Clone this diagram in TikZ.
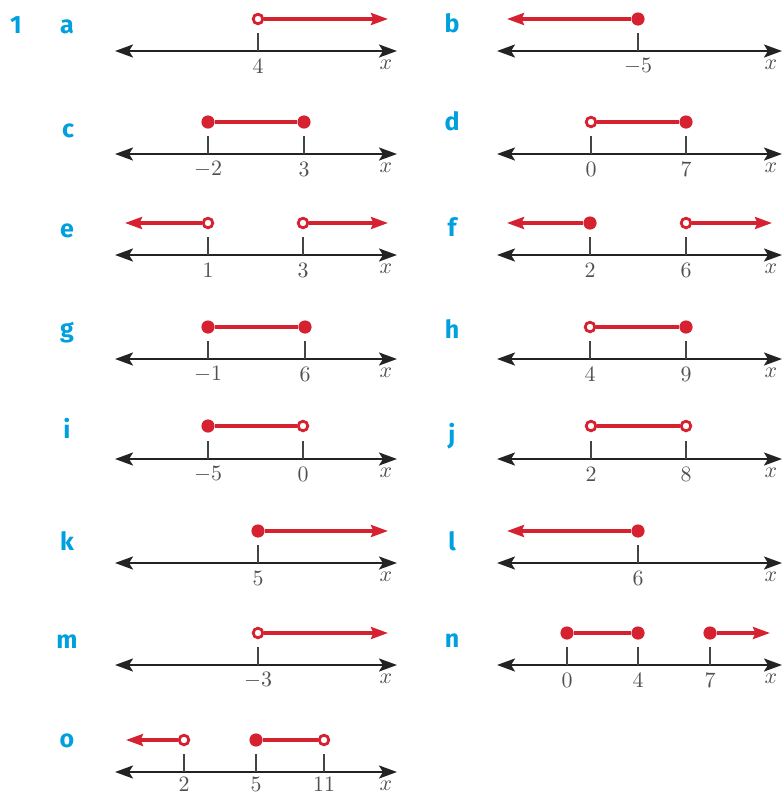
\documentclass[tikz,border=0pt]{standalone}
\usepackage{fontspec}
\newfontfamily\qfont{Fira Sans}
\usetikzlibrary{arrows.meta}
\definecolor{ptred}{RGB}{214,33,48}
\definecolor{qblue}{RGB}{0,160,222}
\definecolor{axisgray}{RGB}{35,35,35}
\definecolor{numgray}{RGB}{80,80,80}
\tikzset{
  axis/.style={draw=axisgray, line width=1.2pt,
    {Stealth[length=9pt,width=6.5pt,inset=2pt]}-{Stealth[length=9pt,width=6.5pt,inset=2pt]}},
  tickmark/.style={draw=axisgray!85, line width=0.8pt},
  ray/.style={draw=ptred, line width=1.6pt},
  tip/.style={-{Stealth[length=8.5pt,width=6pt,inset=1.2pt]}},
  opendot/.style={circle, draw=ptred, fill=white, line width=1.4pt, inner sep=0pt, minimum size=4.8pt},
  fulldot/.style={circle, fill=ptred, inner sep=0pt, minimum size=6.6pt},
  num/.style={text=numgray, inner sep=0pt, font=\fontsize{11}{13}\selectfont},
  qlabel/.style={text=qblue, anchor=base, inner sep=0pt, font=\qfont\bfseries\fontsize{12.5}{14}\selectfont},
}
\begin{document}
\begin{tikzpicture}[x=0.5pt, y=-0.5pt]
  \useasboundingbox (0,0) rectangle (783,794);
  % question and part letters
  \node[qlabel] (q1) at (16,33) {1};
  \foreach \l/\lx/\ly in {a/67/33, b/452/32, c/68/137, d/452/130, e/67/237, f/452/236,
      g/67/337, h/452/338, i/67/438, j/452/443, k/67/550, l/452/550, m/67/648, n/452/647, o/67/747}
    \node[qlabel] (q-\l) at (\lx,\ly) {\l};
  % number lines
  \foreach \xl/\xr/\ay in {115/397/51, 497/782/51, 115/397/154, 497/782/154, 115/397/255, 497/782/255,
      115/397/359, 497/782/359, 115/397/459, 497/782/459, 115/397/563, 497/782/563,
      115/397/665, 497/782/665, 115/397/772} {
    \draw[axis] (\xl,\ay) -- (\xr,\ay);
    \node[num] (x-\xl-\ay) at (\xr-11,\ay+14) {$x$};
  }
  % ticks and their values
  \foreach \tx/\ty/\tl in {258/51/4, 638/51/-5, 208/154/-2, 304/154/3, 591/154/0, 686/154/7,
      208/255/1, 303/255/3, 590/255/2, 686/255/6, 208/359/-1, 305/359/6, 590/359/4, 686/359/9,
      208/459/-5, 303/459/0, 591/459/2, 686/459/8, 258/563/5, 638/563/6,
      258/665/-3, 567/665/0, 638/665/4, 710/665/7} {
    \draw[tickmark] (\tx,\ty) -- ++(0,-18);
    \node[num] (t-\tx-\ty) at (\tx,\ty+15) {$\tl$};
  }
  \foreach \tx/\tl in {184/2, 256/5, 324/11} {
    \draw[tickmark] (\tx,772) -- ++(0,-18);
    \node[num] (t-\tx-772) at (\tx,784) {$\tl$};
  }
  % a
  \node[opendot] (a1) at (258,19) {};
  \coordinate (a2) at (388,19);
  \draw[ray,tip] (a1) -- (a2);
  % b
  \node[fulldot] (b1) at (638,19) {};
  \coordinate (b2) at (507,19);
  \draw[ray,tip] (b1) -- (b2);
  % c
  \node[fulldot] (c1) at (208,122) {};
  \node[fulldot] (c2) at (304,122) {};
  \draw[ray] (c1) -- (c2);
  % d
  \node[opendot] (d1) at (591,122) {};
  \node[fulldot] (d2) at (686,122) {};
  \draw[ray] (d1) -- (d2);
  % e
  \node[opendot] (e1) at (208,223) {};
  \node[opendot] (e2) at (303,223) {};
  \coordinate (e3) at (125,223);
  \coordinate (e4) at (388,223);
  \draw[ray,tip] (e1) -- (e3);
  \draw[ray,tip] (e2) -- (e4);
  % f
  \node[fulldot] (f1) at (590,223) {};
  \node[opendot] (f2) at (686,223) {};
  \coordinate (f3) at (507,223);
  \coordinate (f4) at (772,223);
  \draw[ray,tip] (f1) -- (f3);
  \draw[ray,tip] (f2) -- (f4);
  % g
  \node[fulldot] (g1) at (208,327) {};
  \node[fulldot] (g2) at (305,327) {};
  \draw[ray] (g1) -- (g2);
  % h
  \node[opendot] (h1) at (590,327) {};
  \node[fulldot] (h2) at (686,327) {};
  \draw[ray] (h1) -- (h2);
  % i
  \node[fulldot] (i1) at (208,426) {};
  \node[opendot] (i2) at (303,426) {};
  \draw[ray] (i1) -- (i2);
  % j
  \node[opendot] (j1) at (591,426) {};
  \node[opendot] (j2) at (686,426) {};
  \draw[ray] (j1) -- (j2);
  % k
  \node[fulldot] (k1) at (258,531) {};
  \coordinate (k2) at (388,531);
  \draw[ray,tip] (k1) -- (k2);
  % l
  \node[fulldot] (l1) at (638,531) {};
  \coordinate (l2) at (507,531);
  \draw[ray,tip] (l1) -- (l2);
  % m
  \node[opendot] (m1) at (258,633) {};
  \coordinate (m2) at (388,633);
  \draw[ray,tip] (m1) -- (m2);
  % n
  \node[fulldot] (n1) at (567,633) {};
  \node[fulldot] (n2) at (638,633) {};
  \node[fulldot] (n3) at (710,633) {};
  \coordinate (n4) at (770,633);
  \draw[ray] (n1) -- (n2);
  \draw[ray,tip] (n3) -- (n4);
  % o
  \node[opendot] (o1) at (184,740) {};
  \node[fulldot] (o2) at (256,740) {};
  \node[opendot] (o3) at (324,740) {};
  \coordinate (o4) at (126,740);
  \draw[ray,tip] (o1) -- (o4);
  \draw[ray] (o2) -- (o3);
\end{tikzpicture}
\end{document}
